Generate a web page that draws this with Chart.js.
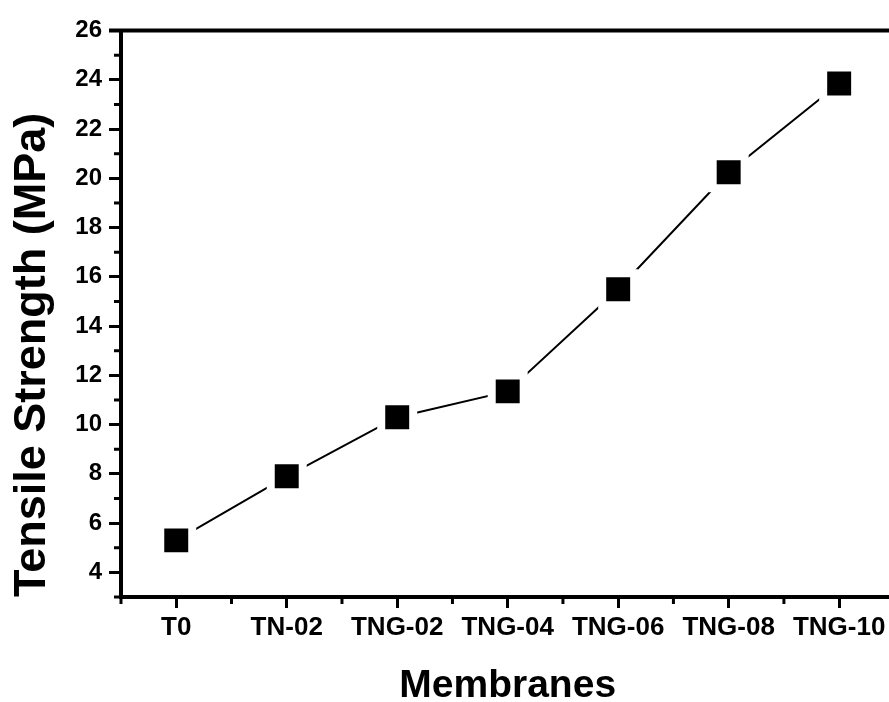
<!DOCTYPE html>
<html>
<head>
<meta charset="utf-8">
<script src="https://cdn.jsdelivr.net/npm/chart.js@4.4.0/dist/chart.umd.min.js"></script>
<style>
  body { margin: 0; overflow: hidden; background: #fff; }
  canvas { display: block; }
</style>
</head>
<body>
<canvas id="myChart" width="925" height="702"></canvas>
<script>
// data
const categories = ['T0', 'TN-02', 'TNG-02', 'TNG-04', 'TNG-06', 'TNG-08', 'TNG-10'];
const tensileStrength = [5.3, 7.9, 10.3, 11.35, 15.5, 20.25, 23.85];
const yTicks = [4, 6, 8, 10, 12, 14, 16, 18, 20, 22, 24, 26];
const yMinorTicks = [3, 5, 7, 9, 11, 13, 15, 17, 19, 21, 23, 25];

const FONT = '"Liberation Sans", Arial, sans-serif';

// minor ticks + top frame line
const framePlugin = {
  id: 'frame',
  afterDraw(chart) {
    const ctx = chart.ctx;
    const area = chart.chartArea;
    const x = chart.scales.x;
    const y = chart.scales.y;
    ctx.save();
    ctx.strokeStyle = '#000';
    ctx.lineWidth = 3;
    yMinorTicks.forEach(v => {
      const py = y.getPixelForValue(v);
      ctx.beginPath();
      ctx.moveTo(area.left - 7, py);
      ctx.lineTo(area.left, py);
      ctx.stroke();
    });
    const half = (x.getPixelForValue(1) - x.getPixelForValue(0)) / 2;
    for (let i = 0; i <= categories.length; i++) {
      const px = x.getPixelForValue(i) - half;
      ctx.beginPath();
      ctx.moveTo(px, area.bottom);
      ctx.lineTo(px, area.bottom + 7);
      ctx.stroke();
    }
    ctx.lineWidth = 4;
    ctx.beginPath();
    ctx.moveTo(area.left - 12, area.top);
    ctx.lineTo(area.right, area.top);
    ctx.stroke();
    ctx.restore();
  }
};

const data = {
  labels: categories,
  datasets: [{
    label: 'Tensile Strength',
    data: tensileStrength,
    borderColor: '#000',
    borderWidth: 2,
    tension: 0,
    pointStyle: 'rect',
    pointRadius: 22.6,
    pointBackgroundColor: '#000',
    pointBorderColor: '#fff',
    pointBorderWidth: 8
  }]
};

const config = {
  type: 'line',
  data,
  options: {
    responsive: false,
    animation: false,
    events: [],
    layout: { padding: { top: 27, right: 0, left: 0, bottom: 0 } },
    plugins: {
      legend: { display: false },
      tooltip: { enabled: false }
    },
    scales: {
      x: {
        offset: true,
        grid: {
          drawOnChartArea: false,
          drawTicks: true,
          tickLength: 11,
          tickWidth: 3,
          tickColor: '#000'
        },
        border: { color: '#000', width: 4 },
        ticks: {
          color: '#000',
          padding: 4,
          maxRotation: 0,
          autoSkip: false,
          font: { family: FONT, size: 26, weight: 'bold' }
        },
        title: {
          display: true,
          text: 'Membranes',
          color: '#000',
          font: { family: FONT, size: 39, weight: 'bold', lineHeight: 0.8 },
          padding: { top: 0, bottom: 0 }
        },
        afterFit(scale) { scale.height = 105; }
      },
      y: {
        min: 3,
        max: 26,
        afterBuildTicks(scale) {
          scale.ticks = yTicks.map(v => ({ value: v }));
        },
        grid: {
          drawOnChartArea: false,
          drawTicks: true,
          tickLength: 12,
          tickWidth: 3,
          tickColor: '#000'
        },
        border: { color: '#000', width: 4 },
        ticks: {
          color: '#000',
          padding: 7,
          font: { family: FONT, size: 24, weight: 'bold' }
        },
        title: {
          display: true,
          text: 'Tensile Strength (MPa)',
          align: 'start',
          color: '#000',
          font: { family: FONT, size: 45, weight: 'bold', lineHeight: 1.2 },
          padding: { top: 6, bottom: 0 }
        },
        afterFit(scale) { scale.width = 121; }
      }
    }
  },
  plugins: [framePlugin]
};

const myChart = new Chart(document.getElementById('myChart'), config);
</script>
</body>
</html>
